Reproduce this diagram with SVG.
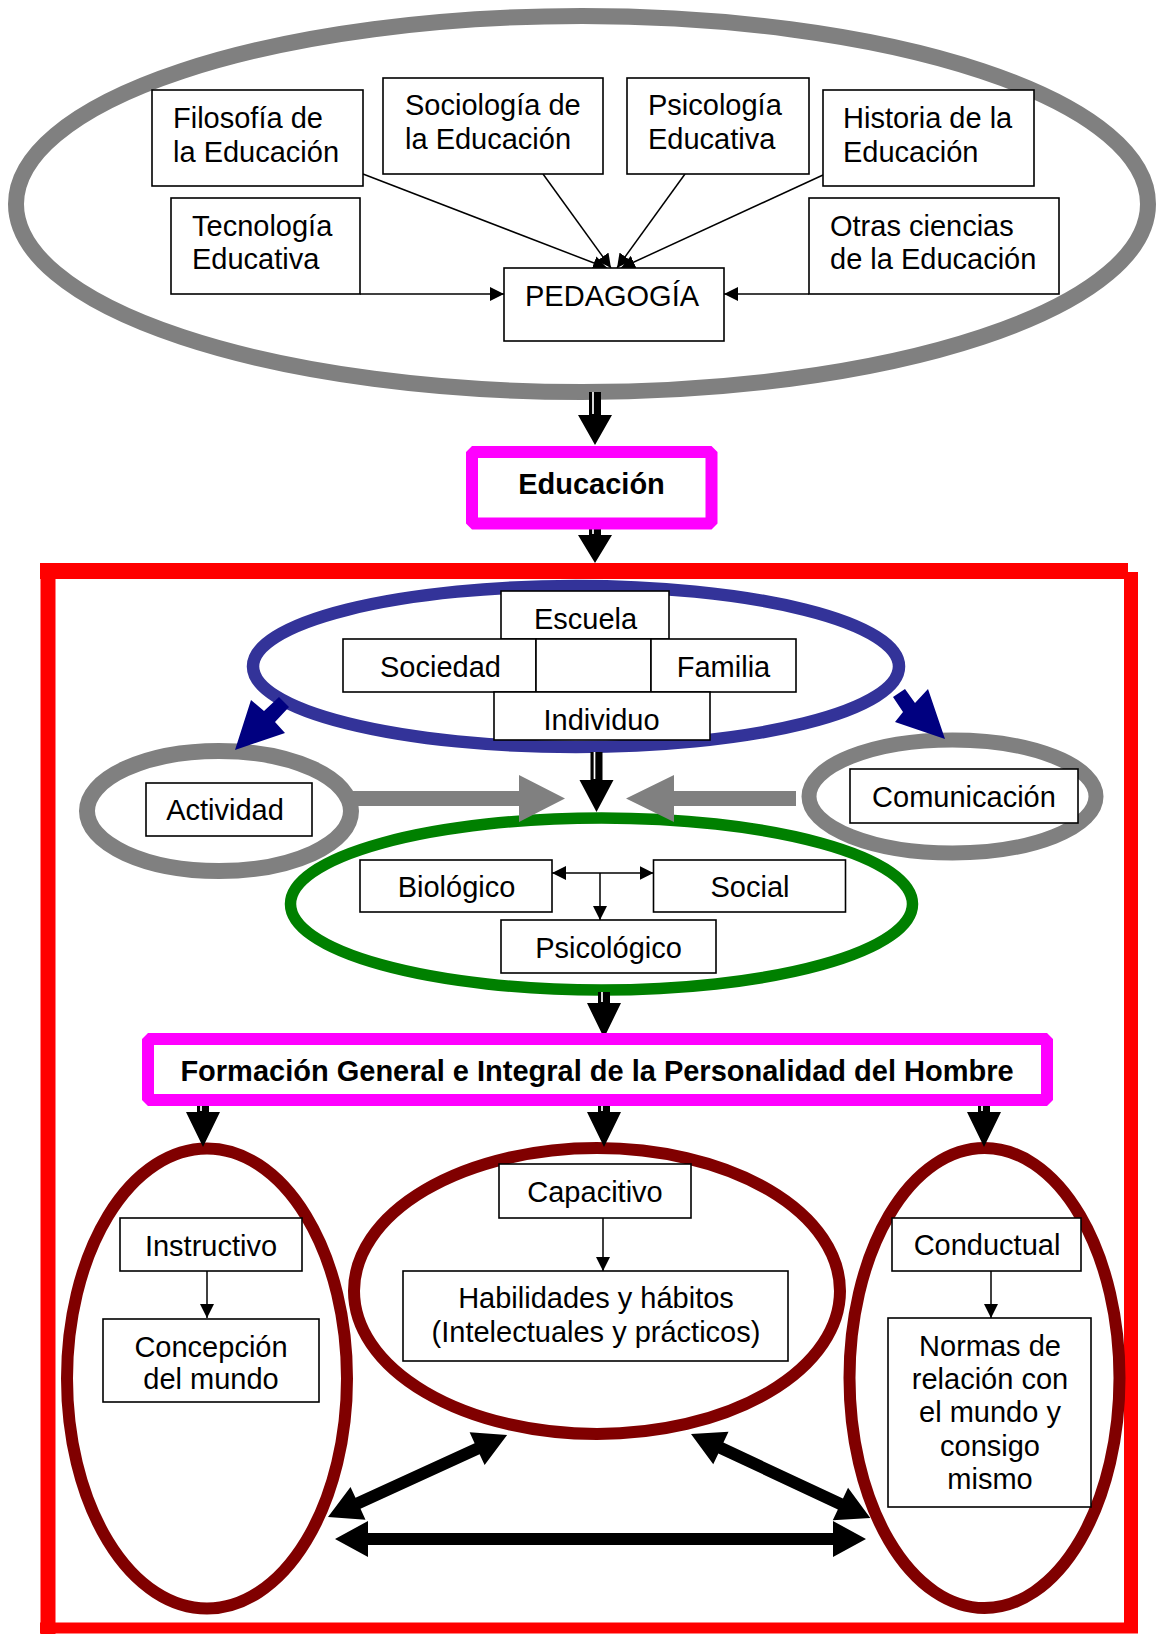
<svg xmlns="http://www.w3.org/2000/svg" width="1156" height="1634" viewBox="0 0 1156 1634">
<defs>
<style>
text{font-family:"Liberation Sans",Arial,sans-serif;font-size:29px;fill:#000}
.c{text-anchor:middle}
.b{font-weight:bold}
.box{fill:#fff;stroke:#000;stroke-width:1.6}
.ring{fill:none}
.thin{fill:none;stroke:#000;stroke-width:1.5}
.fat{fill:#000}
.gap{stroke:#fff;stroke-width:1.7}
.grayar{fill:#808080}
.navy{fill:#000080}
.dbl{fill:#000}
.mag{fill:#fff;stroke:#FF00FF;stroke-width:12;stroke-linejoin:bevel}
</style>
<marker id="ah" markerUnits="userSpaceOnUse" markerWidth="14" markerHeight="14" refX="14" refY="7" orient="auto-start-reverse" viewBox="0 0 14 14">
<path d="M0,0 L14,7 L0,14 z" fill="#000"/>
</marker>
</defs>
<rect width="1156" height="1634" fill="#fff"/>

<g id="ciencias-ring">
<ellipse class="ring" cx="582" cy="204" rx="566" ry="188" stroke="#808080" stroke-width="16"/>
</g>

<g id="marco-rojo" fill="none" stroke="#FF0000">
<line x1="40" y1="571" x2="1128" y2="571" stroke-width="16"/>
<line x1="48" y1="563" x2="48" y2="1634" stroke-width="15"/>
<line x1="1131" y1="572" x2="1131" y2="1633" stroke-width="14"/>
<line x1="40" y1="1628" x2="1138" y2="1628" stroke-width="11"/>
</g>

<g id="contexto">
<ellipse class="ring" cx="576" cy="666.5" rx="323" ry="80.5" stroke="#333399" stroke-width="12.5"/>
</g>
<g id="dimensiones">
<ellipse class="ring" cx="601.5" cy="904" rx="311" ry="86" stroke="#008000" stroke-width="11.5"/>
</g>
<g id="actividad-ring">
<ellipse class="ring" cx="219" cy="811" rx="132" ry="60" stroke="#808080" stroke-width="16"/>
</g>
<g id="comunicacion-ring">
<ellipse class="ring" cx="952.5" cy="796.5" rx="143.5" ry="56.5" stroke="#808080" stroke-width="15"/>
</g>
<g id="instructivo-ring">
<ellipse class="ring" cx="207" cy="1378.5" rx="140" ry="230" stroke="#800000" stroke-width="12"/>
</g>
<g id="capacitivo-ring">
<ellipse class="ring" cx="597" cy="1291" rx="243" ry="143" stroke="#800000" stroke-width="12"/>
</g>
<g id="conductual-ring">
<ellipse class="ring" cx="984.5" cy="1378" rx="135" ry="230" stroke="#800000" stroke-width="12"/>
</g>

<g id="connectors">
<line class="thin" x1="360" y1="294" x2="504" y2="294" marker-end="url(#ah)"/>
<line class="thin" x1="809" y1="294" x2="724" y2="294" marker-end="url(#ah)"/>
<line class="thin" x1="363" y1="174" x2="607" y2="268" marker-end="url(#ah)"/>
<line class="thin" x1="543" y1="174" x2="611" y2="268" marker-end="url(#ah)"/>
<line class="thin" x1="685" y1="174" x2="617" y2="268" marker-end="url(#ah)"/>
<line class="thin" x1="823" y1="175" x2="621" y2="268" marker-end="url(#ah)"/>
<line class="thin" x1="552" y1="873" x2="653.5" y2="873" marker-start="url(#ah)" marker-end="url(#ah)"/>
<line class="thin" x1="600" y1="873" x2="600" y2="920" marker-end="url(#ah)"/>
<line class="thin" x1="603" y1="1218" x2="603" y2="1271" marker-end="url(#ah)"/>
<line class="thin" x1="207" y1="1271" x2="207" y2="1318" marker-end="url(#ah)"/>
<line class="thin" x1="991" y1="1271" x2="991" y2="1318" marker-end="url(#ah)"/>

<path class="fat" d="M589,392 H601 V415 H612 L595,445 L578,415 H589 Z"/>
<line class="gap" x1="593" y1="392" x2="593" y2="414"/>
<path class="fat" d="M589,525 H601 V535 H612 L595,563 L578,535 H589 Z"/>
<line class="gap" x1="593" y1="525" x2="593" y2="534"/>
<path class="fat" d="M590.5,752 H602.5 V780 H613.5 L596.5,812 L579.5,780 H590.5 Z"/>
<line class="gap" x1="594.5" y1="752" x2="594.5" y2="779"/>
<path class="fat" d="M598,992 H610 V1003 H621 L604,1038 L587,1003 H598 Z"/>
<line class="gap" x1="602" y1="992" x2="602" y2="1002"/>
<path class="fat" d="M197,1100 H209 V1112 H220 L203,1147 L186,1112 H197 Z"/>
<line class="gap" x1="201" y1="1100" x2="201" y2="1111"/>
<path class="fat" d="M598,1100 H610 V1112 H621 L604,1147 L587,1112 H598 Z"/>
<line class="gap" x1="602" y1="1100" x2="602" y2="1111"/>
<path class="fat" d="M978,1100 H990 V1112 H1001 L984,1147 L967,1112 H978 Z"/>
<line class="gap" x1="982" y1="1100" x2="982" y2="1111"/>

<path class="navy" d="M279,697 L289,707 L275,722 L285,733 L235,750 L251,700 L264,711 Z"/>
<path class="navy" d="M893,697 L905,689 L915,703 L928,689 L945,739 L895,722 L903,712 Z"/>

<path class="grayar" d="M352,791 H519 V775 L565,798.5 L519,822 V806 H352 Z"/>
<path class="grayar" d="M796,791 H674 V775 L626,798.5 L674,822 V806 H796 Z"/>

<g transform="translate(335,1539)"><polygon class="dbl" points="0,0 33,-18 33,-6 498,-6 498,-18 531,0 498,18 498,6 33,6 33,18"/></g>
<g transform="translate(328,1517) rotate(-24.6)"><polygon class="dbl" points="0,0 33,-18 33,-6 164,-6 164,-18 197,0 164,18 164,6 33,6 33,18"/></g>
<g transform="translate(691,1434) rotate(25.1)"><polygon class="dbl" points="0,0 33,-18 33,-6 165,-6 165,-18 198,0 165,18 165,6 33,6 33,18"/></g>
</g>

<g id="filosofia"><rect class="box" x="152" y="90" width="211" height="96"/><text x="173" y="128">Filosofía de</text><text x="173" y="162">la Educación</text></g>
<g id="sociologia"><rect class="box" x="383" y="78" width="220" height="96"/><text x="405" y="115">Sociología de</text><text x="405" y="149">la Educación</text></g>
<g id="psicologia"><rect class="box" x="627" y="78" width="182" height="96"/><text x="648" y="115">Psicología</text><text x="648" y="149">Educativa</text></g>
<g id="historia"><rect class="box" x="823" y="90" width="211" height="96"/><text x="843" y="128">Historia de la</text><text x="843" y="162">Educación</text></g>
<g id="tecnologia"><rect class="box" x="171" y="198" width="189" height="96"/><text x="192" y="236">Tecnología</text><text x="192" y="269">Educativa</text></g>
<g id="otras"><rect class="box" x="809" y="198" width="250" height="96"/><text x="830" y="236">Otras ciencias</text><text x="830" y="269">de la Educación</text></g>
<g id="pedagogia"><rect class="box" x="504" y="268" width="220" height="73"/><text x="525" y="306">PEDAGOGÍA</text></g>

<g id="educacion"><rect class="mag" x="472" y="452" width="239.5" height="71.5"/><text class="c b" x="591.5" y="494">Educación</text></g>

<g id="escuela"><rect class="box" x="501" y="591" width="168" height="48"/><text class="c" x="585.5" y="629">Escuela</text></g>
<g id="sociedad"><rect class="box" x="343" y="639" width="193" height="53"/><text class="c" x="440.5" y="677">Sociedad</text></g>
<g id="centro"><rect class="box" x="536" y="639" width="115" height="53"/></g>
<g id="familia"><rect class="box" x="651" y="639" width="145" height="53"/><text class="c" x="723.5" y="677">Familia</text></g>
<g id="individuo"><rect class="box" x="494" y="692" width="216" height="48"/><text class="c" x="601.5" y="730">Individuo</text></g>

<g id="actividad"><rect class="box" x="146" y="783" width="166" height="53"/><text class="c" x="225" y="820">Actividad</text></g>
<g id="comunicacion"><rect class="box" x="850" y="769" width="228" height="54"/><text class="c" x="964" y="807">Comunicación</text></g>

<g id="biologico"><rect class="box" x="360" y="860" width="192" height="52"/><text class="c" x="456.5" y="897">Biológico</text></g>
<g id="social"><rect class="box" x="653.5" y="860" width="192" height="52"/><text class="c" x="750" y="897">Social</text></g>
<g id="psicologico"><rect class="box" x="501" y="920" width="215" height="53"/><text class="c" x="608.5" y="958">Psicológico</text></g>

<g id="formacion"><rect class="mag" x="148" y="1039" width="899" height="61"/><text class="c b" x="597" y="1081">Formación General e Integral de la Personalidad del Hombre</text></g>

<g id="instructivo"><rect class="box" x="120" y="1218" width="182" height="53"/><text class="c" x="211" y="1256">Instructivo</text></g>
<g id="concepcion"><rect class="box" x="103" y="1319" width="216" height="83"/><text class="c" x="211" y="1357">Concepción</text><text class="c" x="211" y="1389">del mundo</text></g>
<g id="capacitivo"><rect class="box" x="499" y="1164" width="192" height="54"/><text class="c" x="595" y="1202">Capacitivo</text></g>
<g id="habilidades"><rect class="box" x="403" y="1271" width="385" height="90"/><text class="c" x="596" y="1308">Habilidades y hábitos</text><text class="c" x="596" y="1342">(Intelectuales y prácticos)</text></g>
<g id="conductual"><rect class="box" x="892" y="1218" width="189" height="53"/><text class="c" x="987" y="1255">Conductual</text></g>
<g id="normas"><rect class="box" x="888" y="1318" width="203" height="189"/><text class="c" x="990" y="1356">Normas de</text><text class="c" x="990" y="1389">relación con</text><text class="c" x="990" y="1422">el mundo y</text><text class="c" x="990" y="1456">consigo</text><text class="c" x="990" y="1489">mismo</text></g>
</svg>
